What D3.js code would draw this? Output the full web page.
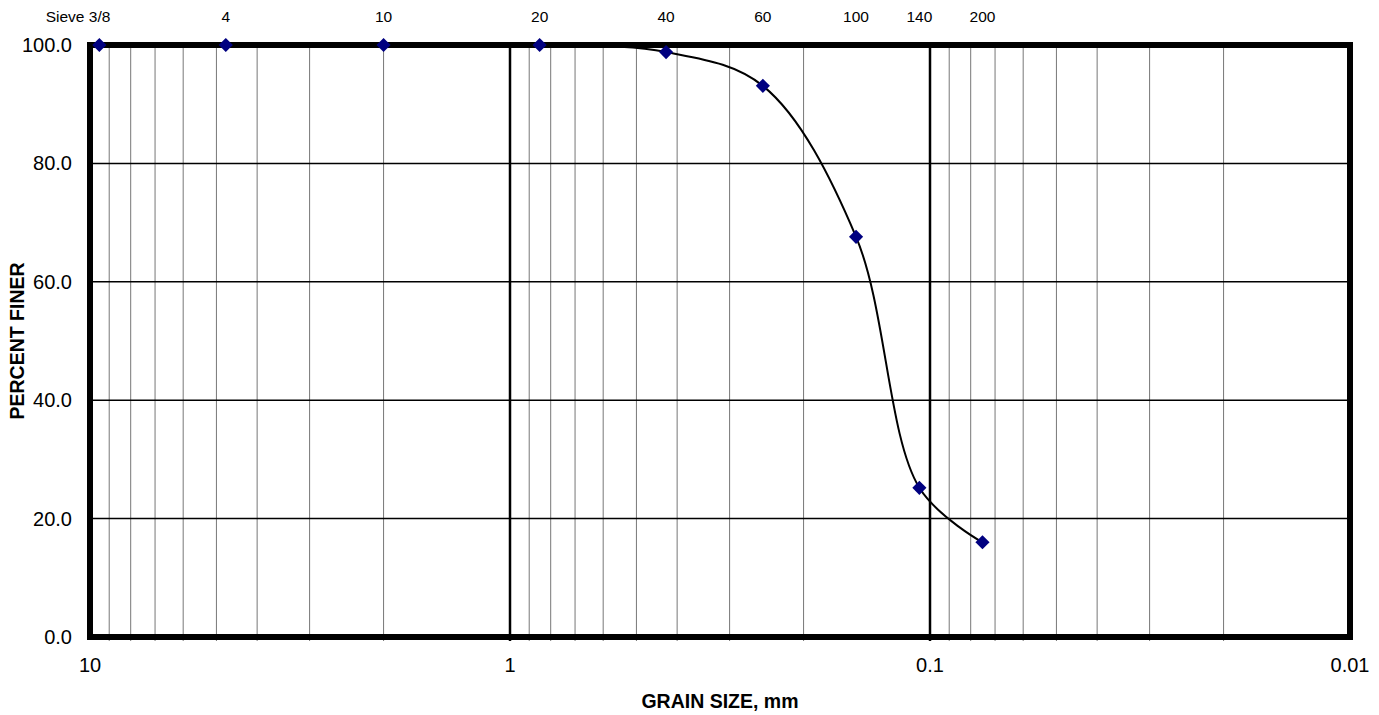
<!DOCTYPE html>
<meta charset="utf-8">
<style>
body {
	margin: 0;
	background-color: white;
}
text {
	font-family: "Liberation Sans", Arial, sans-serif;
}
.axisTitle {
	font-weight: bold;
	font-size: 19.5px;
}
</style>
<html>
	<head>
		<title>Grain Size Distribution</title>
		<script src="https://cdn.jsdelivr.net/npm/d3@7"></script>
	</head>
	<body>
		<svg id="svgchart"></svg>
<script>
'use strict'

// sieve data (grain size in mm, percent finer)
const sieveNames   = ["3/8", "4", "10", "20", "40", "60", "100", "140", "200"]
const grainSizes   = [9.5, 4.75, 2.0, 0.85, 0.425, 0.25, 0.15, 0.106, 0.075]
const percentFiner = [100, 100, 100, 100, 98.8, 93.1, 67.6, 25.2, 16.0]
const yTicks       = [0, 20, 40, 60, 80, 100]
const xMajorTicks  = [10, 1, 0.1, 0.01]

const chartWidth  = 1379,
      chartHeight = 715,
      plotLeft    = 90,
      plotRight   = 1350,
      plotTop     = 45,
      plotBottom  = 637

const svg = d3.select("#svgchart")
	.attr("width", chartWidth)
	.attr("height", chartHeight)

const x = d3.scaleLog().domain([10, 0.01]).range([plotLeft, plotRight])
const y = d3.scaleLinear().domain([0, 100]).range([plotBottom, plotTop])

// minor grain-size lines: 2..9 of each decade
const minorTicks = []
;[1, 0.1, 0.01].forEach(dec => {
	for (let k = 2; k <= 9; k++) minorTicks.push(+(dec * k).toPrecision(3))
})

const grid = svg.append("g")

// minor verticals
grid.selectAll(".minor")
	.data(minorTicks)
	.enter().append("line")
	.attr("x1", d => x(d)).attr("x2", d => x(d))
	.attr("y1", plotTop).attr("y2", plotBottom + 4)
	.attr("stroke", "#777")
	.attr("stroke-width", 1)

// major verticals (1 and 0.1)
grid.selectAll(".major")
	.data([1, 0.1])
	.enter().append("line")
	.attr("x1", d => x(d)).attr("x2", d => x(d))
	.attr("y1", plotTop).attr("y2", plotBottom + 4)
	.attr("stroke", "black")
	.attr("stroke-width", 2.5)

// horizontal gridlines
grid.selectAll(".hgrid")
	.data(yTicks.filter(d => d > 0 && d < 100))
	.enter().append("line")
	.attr("x1", plotLeft).attr("x2", plotRight)
	.attr("y1", d => y(d)).attr("y2", d => y(d))
	.attr("stroke", "black")
	.attr("stroke-width", 1.5)

// clip path for the curve
svg.append("clipPath").attr("id", "plotClip")
	.append("rect")
	.attr("x", plotLeft).attr("y", plotTop)
	.attr("width", plotRight - plotLeft).attr("height", plotBottom - plotTop)

const points = grainSizes.map((g, i) => ({ size: g, pct: percentFiner[i], name: sieveNames[i] }))

const line = d3.line()
	.x(d => x(d.size))
	.y(d => y(d.pct))
	.curve(d3.curveCatmullRom.alpha(0.5))

svg.append("path")
	.datum(points)
	.attr("clip-path", "url(#plotClip)")
	.attr("d", line)
	.attr("fill", "none")
	.attr("stroke", "black")
	.attr("stroke-width", 2)

// plot frame
svg.append("rect")
	.attr("x", plotLeft).attr("y", plotTop)
	.attr("width", plotRight - plotLeft).attr("height", plotBottom - plotTop)
	.attr("fill", "none")
	.attr("stroke", "black")
	.attr("stroke-width", 6)

// diamond markers
svg.selectAll(".pt")
	.data(points)
	.enter().append("path")
	.attr("d", d3.symbol(d3.symbolSquare, 100))
	.attr("transform", d => "translate(" + x(d.size) + "," + y(d.pct) + ") rotate(45)")
	.attr("fill", "#000080")

// y tick labels
svg.selectAll(".ylab")
	.data(yTicks)
	.enter().append("text")
	.attr("x", 72)
	.attr("y", d => y(d) + 7)
	.attr("text-anchor", "end")
	.attr("font-size", 20)
	.text(d => d.toFixed(1))

// x tick labels
svg.selectAll(".xlab")
	.data(xMajorTicks)
	.enter().append("text")
	.attr("x", d => x(d))
	.attr("y", 672)
	.attr("text-anchor", "middle")
	.attr("font-size", 20)
	.text(d => String(d))

// sieve labels on top
svg.selectAll(".sieve")
	.data(points)
	.enter().append("text")
	.attr("x", (d, i) => i === 0 ? x(d.size) + 11 : x(d.size))
	.attr("y", 22)
	.attr("text-anchor", (d, i) => i === 0 ? "end" : "middle")
	.attr("font-size", 15.5)
	.text((d, i) => i === 0 ? "Sieve " + d.name : d.name)

// axis titles
svg.append("text")
	.attr("class", "axisTitle")
	.attr("x", (plotLeft + plotRight) / 2)
	.attr("y", 708)
	.attr("text-anchor", "middle")
	.text("GRAIN SIZE, mm")

svg.append("text")
	.attr("class", "axisTitle")
	.attr("transform", "translate(24," + (plotTop + plotBottom) / 2 + ") rotate(-90)")
	.attr("text-anchor", "middle")
	.text("PERCENT FINER")
</script>
	</body>
</html>
